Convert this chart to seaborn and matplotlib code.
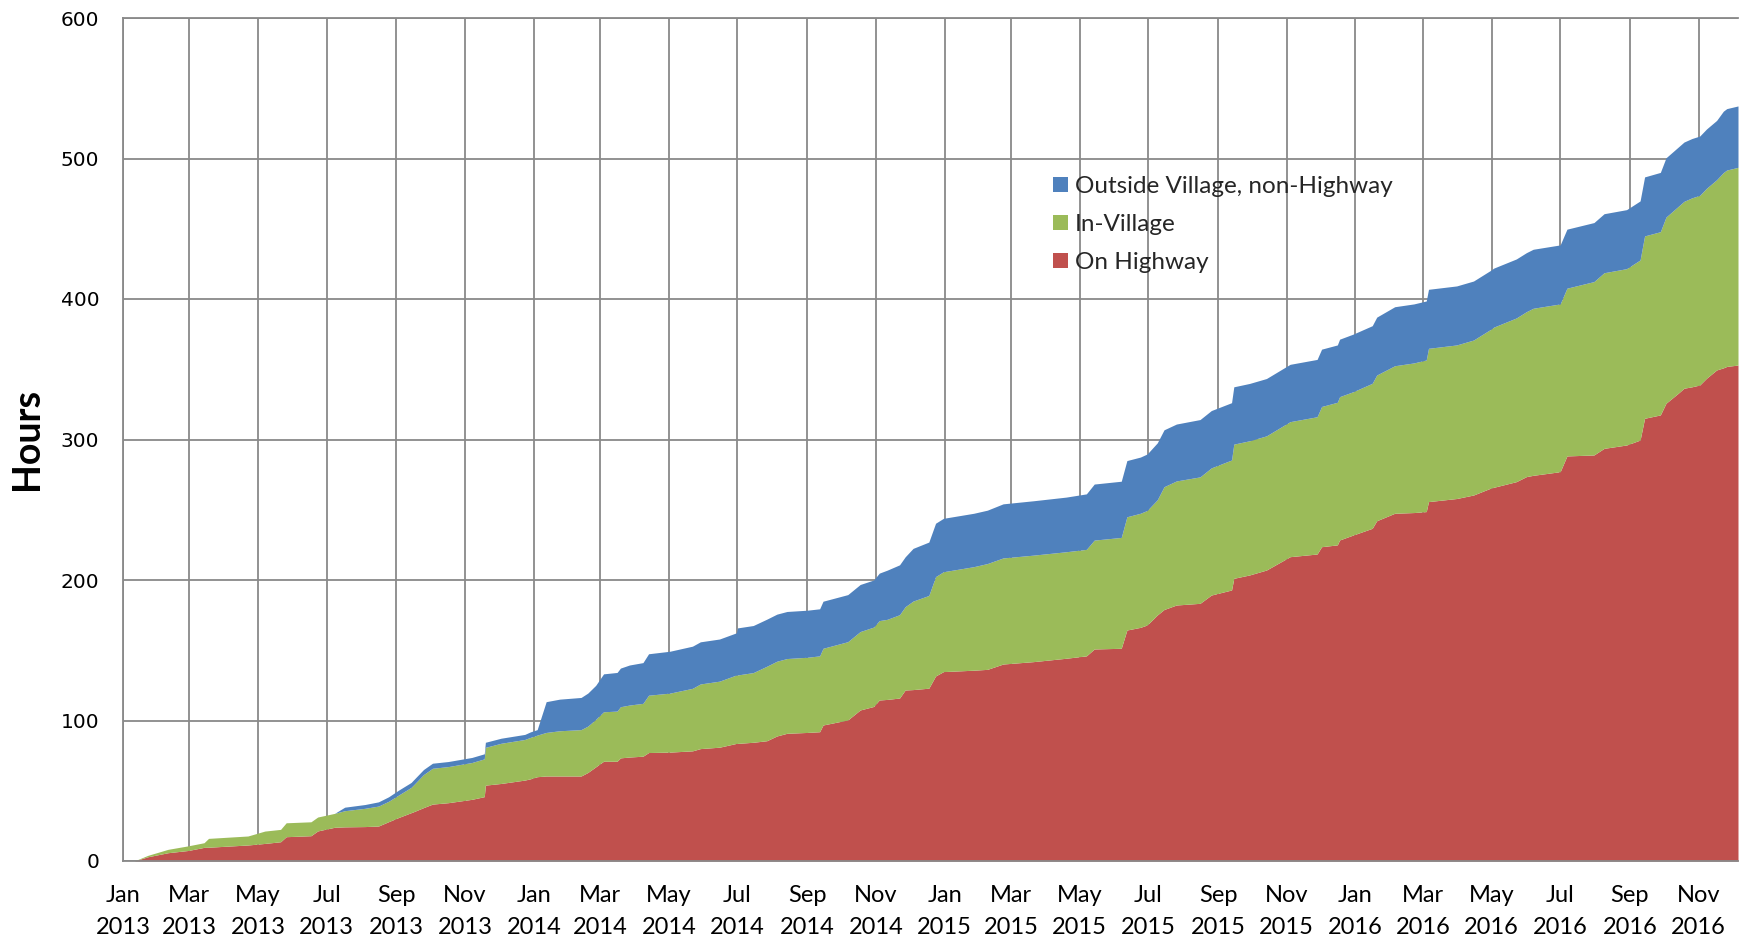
import numpy as np
import pandas as pd
import matplotlib
matplotlib.use("Agg")
import matplotlib.pyplot as plt
import matplotlib.dates as mdates
from matplotlib.patches import Patch
import seaborn as sns

# ---------------- data ----------------
start_date = "2013-01-01"
day_offsets = [
    0, 10, 22, 40, 58, 72, 76, 111, 126, 140,
    145, 167, 173, 188, 197, 215, 227, 236, 245, 256,
    258, 267, 275, 289, 310, 321, 322, 336, 357, 362,
    368, 376, 388, 407, 413, 420, 427, 439, 442, 450,
    462, 467, 486, 506, 513, 530, 545, 546, 560, 572,
    581, 590, 608, 619, 622, 644, 655, 667, 672, 679,
    690, 695, 702, 716, 722, 729, 756, 768, 782, 809,
    838, 856, 863, 887, 892, 904, 910, 919, 925, 936,
    957, 967, 985, 987, 1001, 1016, 1037, 1061, 1065, 1079,
    1081, 1093, 1110, 1114, 1130, 1147, 1158, 1160, 1185, 1200,
    1215, 1218, 1238, 1247, 1253, 1277, 1283, 1307, 1316, 1336,
    1348, 1352, 1366, 1371, 1382, 1387, 1394, 1401, 1407, 1416,
    1422, 1425, 1435,
]
on_highway = [
    0, 0, 3, 5.9, 7.5, 9.7, 9.8, 11.4, 12.5, 13.7,
    17.3, 18, 21.4, 24, 24.3, 24.5, 24.9, 28, 31, 34.4,
    35, 38, 40.5, 41.5, 43.9, 45.8, 54, 55.2, 57.6, 58.5,
    60, 60.5, 60.5, 60.5, 63, 67, 71, 71, 73.4, 74,
    74.6, 77.2, 77.5, 78.4, 80, 81, 83.7, 83.7, 84.5, 85.6,
    89, 90.9, 91.5, 92, 96.8, 100.4, 107.5, 110, 114.6, 115,
    116, 121.7, 122, 123, 131.7, 134.8, 135.8, 136.4, 140.2, 141.9,
    144.3, 146, 150.9, 151.4, 164.4, 166.3, 168, 175.1, 179, 182.2,
    183.4, 189.3, 192.9, 201.2, 203.6, 207.1, 216.6, 218.5, 223.7, 225,
    228.5, 232, 236.8, 242.2, 247.5, 248, 248.7, 255.8, 258, 260.5,
    265.3, 266, 270, 273.6, 274.5, 277.1, 288.3, 289, 293.7, 296.1,
    299.6, 315.1, 317.5, 325.8, 333, 336.5, 337.5, 338.8, 343.6, 349.5,
    351, 352, 353,
]
in_village = [
    0, 0, 1, 2.4, 3.3, 3.3, 6.3, 6.4, 8.8, 8.8,
    9.9, 9.9, 9.9, 9.9, 11.5, 13.0, 14.2, 14.5, 16.0, 18.0,
    19.0, 23.5, 25.5, 25.7, 26.2, 26.9, 26.9, 28.6, 28.9, 29.5,
    29.6, 31.0, 32.2, 33.0, 33.0, 33.8, 35.2, 35.7, 36.4, 37.0,
    37.6, 40.8, 42.0, 44.5, 46.0, 47.0, 48.7, 48.7, 49.6, 53.0,
    53.2, 53.2, 53.5, 54.0, 54.6, 55.7, 55.8, 56.5, 56.5, 57.0,
    59.3, 59.3, 63.0, 66.0, 70.7, 71.1, 73.7, 75.3, 75.5, 75.8,
    75.8, 75.8, 77.5, 78.9, 80.6, 81.2, 81.5, 82.0, 87.4, 88.3,
    90.0, 90.5, 92.5, 95.5, 95.5, 95.5, 96.1, 97.7, 99.8, 101.5,
    102.0, 102.0, 103.2, 103.7, 105.0, 106.5, 107.9, 109.1, 109.3, 110.3,
    113.0, 114.0, 116.5, 117.4, 118.9, 119.4, 119.4, 123.4, 125.0, 125.5,
    128.2, 129.8, 130.4, 132.5, 133.0, 133.0, 134.5, 135.0, 135.2, 135.4,
    139.0, 139.8, 140.7,
]
outside_village = [
    0, 0, 0, 0, 0, 0, 0, 0, 0, 0,
    0, 0, 0, 0, 2.5, 2.7, 3.0, 3.2, 3.5, 3.5,
    3.6, 3.6, 3.6, 3.6, 3.6, 3.6, 3.6, 3.6, 3.6, 3.9,
    3.9, 21.9, 22.5, 22.9, 23.5, 24.2, 27.0, 27.5, 27.5, 28.5,
    29.0, 29.5, 29.8, 30.0, 30.0, 30.0, 30.0, 33.5, 33.5, 33.5,
    33.5, 33.5, 33.5, 33.5, 33.5, 33.5, 33.5, 33.5, 33.8, 35.0,
    35.5, 35.5, 37.5, 38.0, 38.0, 38.0, 38.0, 38.0, 38.5, 38.7,
    38.9, 39.5, 39.9, 40.0, 40.0, 40.0, 40.2, 40.5, 40.5, 40.5,
    40.8, 40.8, 40.8, 40.8, 40.8, 40.8, 40.8, 40.8, 40.8, 40.8,
    40.9, 41.0, 41.0, 41.2, 42.0, 42.0, 42.0, 42.0, 42.0, 42.0,
    42.0, 42.0, 42.0, 42.0, 42.0, 42.0, 42.0, 42.0, 42.0, 42.0,
    42.0, 42.0, 42.2, 42.2, 42.2, 42.2, 42.2, 42.2, 42.2, 42.2,
    43.7, 43.7, 43.7,
]
series_labels = ["On Highway", "In-Village", "Outside Village, non-Highway"]
series_colors = ["#C0504D", "#9BBB59", "#4F81BD"]
y_ticks = [0, 100, 200, 300, 400, 500, 600]
y_label = "Hours"

# ---------------- style ----------------
sns.set_theme(style="white")
plt.rcParams["font.family"] = ["Lato", "DejaVu Sans"]
grid_color = "#898989"

dates = pd.Timestamp(start_date) + pd.to_timedelta(day_offsets, unit="D")
df = pd.DataFrame({
    series_labels[0]: on_highway,
    series_labels[1]: in_village,
    series_labels[2]: outside_village,
}, index=dates)

W, H = 1748, 940
fig = plt.figure(figsize=(W / 100, H / 100), dpi=100)
fig.patch.set_facecolor("white")
left, right, top, bottom = 123, 1738, 18, 861
ax = fig.add_axes([left / W, 1 - bottom / H, (right - left) / W, (bottom - top) / H])

ax.stackplot(df.index, *[df[c].values for c in series_labels],
             colors=series_colors, labels=series_labels, linewidth=0,
             antialiased=True)

ax.set_xlim(df.index[0], df.index[-1])
ax.set_ylim(y_ticks[0], y_ticks[-1])
ax.set_yticks(y_ticks)
ax.xaxis.set_major_locator(mdates.MonthLocator(bymonth=[1, 3, 5, 7, 9, 11]))
ax.xaxis.set_major_formatter(mdates.DateFormatter("%b\n%Y"))

ax.set_axisbelow(True)
ax.grid(True, which="major", axis="both", color=grid_color, linewidth=1.3)
for s in ["left", "bottom", "top"]:
    ax.spines[s].set_visible(True)
    ax.spines[s].set_color(grid_color)
    ax.spines[s].set_linewidth(1.3)
ax.spines["right"].set_visible(False)

ax.tick_params(axis="x", length=0, pad=17.5, labelsize=17, colors="black")
ax.tick_params(axis="y", length=0, pad=17, labelsize=14.5, colors="black")
for lbl in ax.get_xticklabels():
    lbl.set_linespacing(1.65)
for lbl in ax.get_yticklabels():
    lbl.set_family(["DejaVu Sans"])

fig.text(27 / W, 1 - 439 / H, y_label, rotation=90, ha="center", va="center",
         fontsize=27, fontweight="bold", color="black")

handles = [Patch(facecolor=c, edgecolor="none") for c in series_colors][::-1]
ax.legend(handles, series_labels[::-1], loc="upper left",
          bbox_to_anchor=(1053 / W, 1 - 176 / H), bbox_transform=fig.transFigure,
          frameon=False, fontsize=17.5, handlelength=0.6, handleheight=0.6,
          handletextpad=0.3, labelspacing=0.7, borderpad=0, borderaxespad=0)

fig.savefig("out.png", dpi=100, facecolor="white")
